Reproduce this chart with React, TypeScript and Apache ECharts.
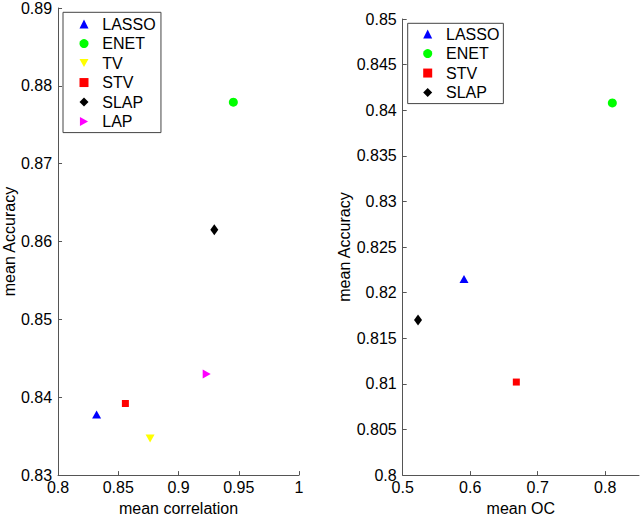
import React, { useEffect, useRef } from "react";
import * as echarts from "echarts";

const methodsA = ["LASSO", "ENET", "TV", "STV", "SLAP", "LAP"];
const corrX = [0.832, 0.9455, 0.8764, 0.8559, 0.9297, 0.9234];
const accA = [0.8378, 0.8779, 0.8347, 0.8392, 0.8615, 0.843];

const methodsB = ["LASSO", "ENET", "STV", "SLAP"];
const ocX = [0.5908, 0.8105, 0.6683, 0.5227];
const accB = [0.8215, 0.8408, 0.8102, 0.817];

const colors: Record<string, string> = {
  LASSO: "#0000ff",
  ENET: "#00ff00",
  TV: "#ffff00",
  STV: "#ff0000",
  SLAP: "#000000",
  LAP: "#ff00ff",
};
const symbols: Record<string, string> = {
  LASSO: "triangle",
  ENET: "circle",
  TV: "path://M0,0 L10,0 L5,9 Z",
  STV: "rect",
  SLAP: "diamond",
  LAP: "path://M0,0 L9,5 L0,10 Z",
};
const sizes: Record<string, number | number[]> = {
  LASSO: [9, 8],
  ENET: 9,
  TV: [9, 8],
  STV: 7,
  SLAP: [8, 11],
  LAP: [8, 9],
};

const FONT = "Liberation Sans, Arial, Helvetica, sans-serif";
const AXIS_COLOR = "#555555";

const fmt = (v: number) => String(+v.toFixed(4));

function App() {
  const ref = useRef<HTMLDivElement>(null);
  useEffect(() => {
    document.body.style.margin = "0";
    const chart = echarts.init(ref.current!, null, { renderer: "svg" });
    const axisCommon = {
      type: "value" as const,
      splitLine: { show: false },
      axisLine: { show: true, lineStyle: { color: AXIS_COLOR, width: 1 } },
      axisTick: { show: true, inside: true, length: 4, lineStyle: { color: AXIS_COLOR } },
      nameLocation: "middle" as const,
      nameTextStyle: { fontFamily: FONT, fontSize: 16, color: "#000" },
    };
    const labelCommon = {
      fontFamily: FONT,
      fontSize: 16,
      color: "#000",
    };
    const legendCommon = {
      orient: "vertical" as const,
      backgroundColor: "#fff",
      borderColor: "#444",
      borderWidth: 1,
      itemWidth: 9,
      itemHeight: 9,
      itemGap: 0,
      symbolKeepAspect: true,
      textStyle: {
        fontFamily: FONT,
        fontSize: 16,
        color: "#000",
        lineHeight: 19.5,
        padding: [0, 0, 0, 8.8],
      },
      selectedMode: false,
    };
    const mk = (names: string[], xs: number[], ys: number[], idx: number) =>
      names.map((n, i) => ({
        name: n,
        type: "scatter" as const,
        xAxisIndex: idx,
        yAxisIndex: idx,
        symbol: symbols[n],
        symbolSize: sizes[n],
        itemStyle: { color: colors[n], opacity: 1 },
        data: [[xs[i], ys[i]]],
      }));
    chart.setOption({
      animation: false,
      backgroundColor: "#fff",
      grid: [
        { left: 58, top: 7, right: 342, bottom: 38 },
        { left: 402.7, top: 19, right: 2, bottom: 38 },
      ],
      xAxis: [
        {
          ...axisCommon,
          gridIndex: 0,
          min: 0.8,
          max: 1,
          interval: 0.05,
          name: "mean correlation",
          nameGap: 22,
          axisLabel: { ...labelCommon, margin: 4, formatter: (v: number) => fmt(v) },
        },
        {
          ...axisCommon,
          gridIndex: 1,
          min: 0.5,
          max: 0.85,
          interval: 0.1,
          name: "mean OC",
          nameGap: 22,
          axisLabel: {
            ...labelCommon,
            margin: 4,
            showMaxLabel: false,
            formatter: (v: number) => (Math.abs(v - 0.85) < 1e-9 ? "" : fmt(v)),
          },
        },
      ],
      yAxis: [
        {
          ...axisCommon,
          gridIndex: 0,
          min: 0.83,
          max: 0.89,
          interval: 0.01,
          name: "mean Accuracy",
          nameGap: 41,
          axisLabel: { ...labelCommon, margin: 6, formatter: (v: number) => fmt(v) },
        },
        {
          ...axisCommon,
          gridIndex: 1,
          min: 0.8,
          max: 0.85,
          interval: 0.005,
          name: "mean Accuracy",
          nameGap: 48,
          axisLabel: { ...labelCommon, margin: 6, formatter: (v: number) => fmt(v) },
        },
      ],
      legend: [
        {
          ...legendCommon,
          data: methodsA,
          left: 63,
          top: 12.3,
          padding: [2, 5.3, 1.3, 16.5],
        },
        {
          ...legendCommon,
          data: methodsB,
          left: 407.7,
          top: 23.3,
          padding: [1, 4, 1.3, 15.5],
        },
      ],
      series: [...mk(methodsA, corrX, accA, 0), ...mk(methodsB, ocX, accB, 1)],
    });
    return () => chart.dispose();
  }, []);
  return <div ref={ref} style={{ width: 641, height: 521 }} />;
}

export default App;
